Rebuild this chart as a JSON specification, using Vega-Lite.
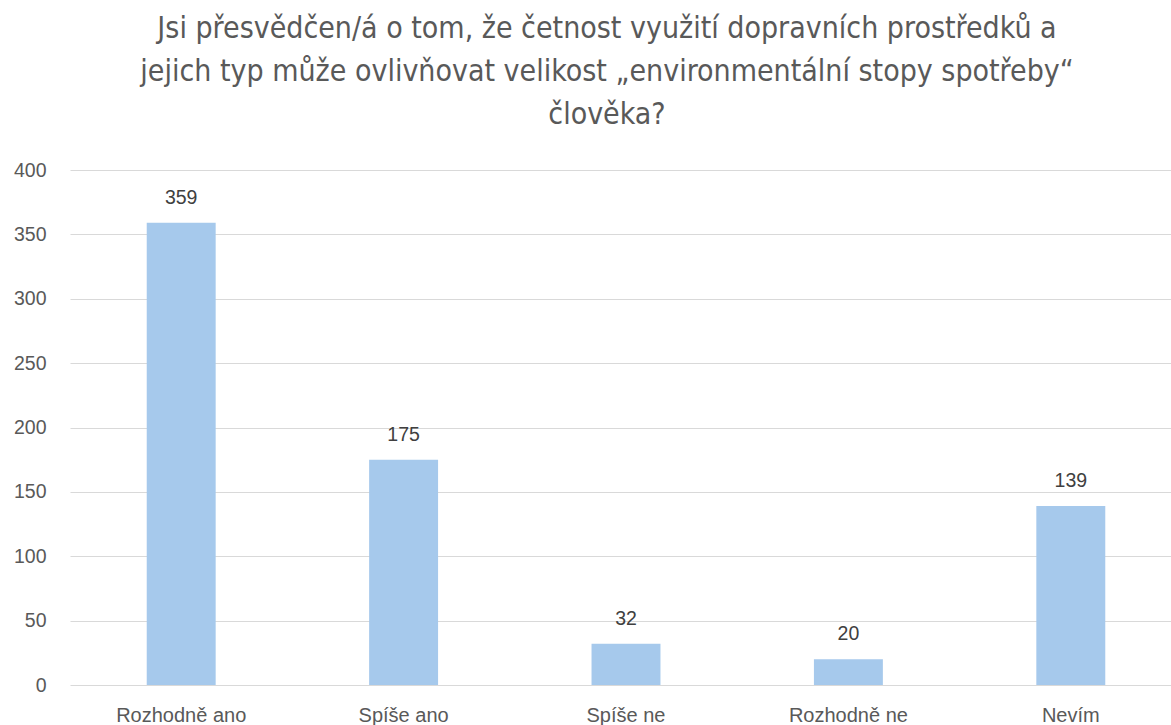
{
  "$schema": "https://vega.github.io/schema/vega-lite/v6.json",
  "width": 1112,
  "height": 515,
  "autosize": {"type": "none"},
  "padding": {"left": 70, "top": 170, "right": 0, "bottom": 40},
  "background": "white",
  "config": {"view": {"stroke": null}},
  "title": {
    "text": ["Jsi přesvědčen/á o tom, že četnost využití dopravních prostředků a", "jejich typ může ovlivňovat velikost „environmentální stopy spotřeby“", "člověka?"],
    "font": "DejaVu Sans Condensed, Roboto",
    "fontSize": 30,
    "fontWeight": "normal",
    "color": "#595959",
    "lineHeight": 43,
    "anchor": "middle",
    "dx": -19,
    "offset": 30
  },
  "data": {
    "values": [
      {"kategorie": "Rozhodně ano", "pocet": 359},
      {"kategorie": "Spíše ano", "pocet": 175},
      {"kategorie": "Spíše ne", "pocet": 32},
      {"kategorie": "Rozhodně ne", "pocet": 20},
      {"kategorie": "Nevím", "pocet": 139}
    ]
  },
  "encoding": {
    "x": {
      "field": "kategorie",
      "type": "nominal",
      "sort": null,
      "scale": {"paddingInner": 0.69, "paddingOuter": 0.345},
      "axis": {
        "title": null,
        "labelAngle": 0,
        "labelFont": "Liberation Sans",
        "labelFontSize": 20,
        "labelColor": "#595959",
        "labelPadding": 20,
        "ticks": false,
        "domain": false
      }
    },
    "y": {
      "field": "pocet",
      "type": "quantitative",
      "scale": {"domain": [0, 400]},
      "axis": {
        "title": null,
        "values": [0, 50, 100, 150, 200, 250, 300, 350, 400],
        "labelFont": "Liberation Sans",
        "labelFontSize": 19.5,
        "labelColor": "#595959",
        "labelPadding": 24,
        "ticks": false,
        "domain": false,
        "gridColor": "#d9d9d9",
        "gridWidth": 1
      }
    }
  },
  "layer": [
    {"mark": {"type": "bar", "color": "#a6c9ec"}},
    {
      "mark": {"type": "text", "baseline": "bottom", "dy": -15, "font": "Liberation Sans", "fontSize": 19.5, "color": "#404040"},
      "encoding": {"text": {"field": "pocet", "type": "quantitative"}}
    }
  ]
}
